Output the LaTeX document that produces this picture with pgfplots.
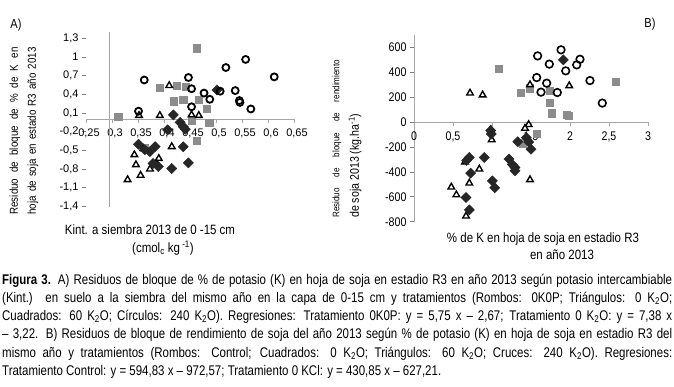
\documentclass[border=0pt]{standalone}
\usepackage{fontspec}
\setmainfont{Liberation Sans}
\newfontfamily\nfont{Liberation Sans}[FakeStretch=0.85]
\newfontfamily\cfont{Liberation Sans}[FakeStretch=0.82]
\usepackage{pgfplots}
\pgfplotsset{compat=1.18}
\definecolor{sqgray}{HTML}{8C8C8C}
\definecolor{axgray}{HTML}{A6A6A6}
\pgfplotsset{
 diam/.style={only marks, mark=square*, mark size=3.6pt, mark options={rotate=45, fill=black!85, draw=black!85}},
 sq/.style={only marks, mark=square*, mark size=3.6pt, mark options={fill=sqgray, draw=sqgray}},
 circ/.style={only marks, mark=o, mark size=3.5pt, mark options={draw=black, line width=1.8pt}},
 circB/.style={only marks, mark=o, mark size=3.8pt, mark options={draw=black, line width=1.6pt}},
 tri/.style={only marks, mark=triangle*, mark size=3.8pt, mark options={fill=white, draw=black, line width=1.4pt}},
}
\begin{document}
\begin{tikzpicture}[x=1pt,y=1pt]
\useasboundingbox (0pt,0pt) rectangle (674pt,386pt);

% ---------------- Chart A ----------------
\begin{axis}[
  at={(86pt,179.5pt)}, anchor=south west, scale only axis,
  width=208pt, height=174.5pt,
  xmin=0.25, xmax=0.65, ymin=-1.4, ymax=1.4,
  axis x line=middle, axis y line=left,
  axis line style={-, draw=axgray, line width=0.9pt},
  y axis line style={draw=none},
  hide obscured x ticks=false, hide obscured y ticks=false,
  xtick={0.25,0.3,0.35,0.4,0.45,0.5,0.55,0.6,0.65},
  xticklabels={{0,25},{0,3},{0,35},{0,4},{0,45},{0,5},{0,55},{0,6},{0,65}},
  ytick={-1.4,-1.1,-0.8,-0.5,-0.2,0.1,0.4,0.7,1,1.3},
  yticklabels={{-1,4},{-1,1},{-0,8},{-0,5},{-0,2},{0,1},{0,4},{0,7},{1},{1,3}},
  tick align=outside, major tick length=4pt,
  xtick style={draw=axgray, line width=0.6pt},
  ytick style={draw=gray, line width=0.8pt},
  xticklabel style={font=\fontsize{11}{12}\selectfont, yshift=-2pt, xshift=3pt},
  yticklabel style={font=\fontsize{11}{12}\selectfont},
  clip=false,
]
\addplot[axgray, line width=0.9pt] coordinates {(0.295,-1.4) (0.295,1.4)};
% 60 K2O (squares)
\addplot[sq] coordinates {(0.463,1.14) (0.392,0.51) (0.424,0.54) (0.418,0.29) (0.437,0.32) (0.442,0.52) (0.467,0.32) (0.482,0.165) (0.487,-0.055) (0.453,-0.02) (0.463,-0.35) (0.312,0.04) (0.362,-0.46)};
% 0 K2O (triangles)
\addplot[tri] coordinates {(0.410,0.54) (0.392,0.06) (0.352,0.06) (0.453,0.07) (0.467,0.06) (0.415,-0.44) (0.390,-0.63) (0.343,-0.57) (0.346,-0.73) (0.355,-0.90) (0.330,-0.97) (0.373,-0.80) (0.386,-0.72) (0.360,-0.47)};
% 0K0P (diamonds)
\addplot[diam] coordinates {(0.418,0.07) (0.431,-0.05) (0.437,-0.12) (0.441,-0.16) (0.407,-0.17) (0.351,-0.40) (0.363,-0.49) (0.373,-0.52) (0.383,-0.44) (0.437,-0.44) (0.379,-0.71) (0.389,-0.76) (0.415,-0.79) (0.447,-0.70) (0.502,0.47)};
% 240 K2O (circles)
\addplot[circ] coordinates {(0.362,0.63) (0.447,0.67) (0.453,0.49) (0.477,0.42) (0.488,0.32) (0.508,0.45) (0.519,0.83) (0.537,0.46) (0.546,0.27) (0.545,0.30) (0.557,0.96) (0.567,0.165) (0.612,0.68) (0.453,0.20) (0.351,0.13)};
\end{axis}

% ---------------- Chart B ----------------
\begin{axis}[
  at={(414pt,164.3pt)}, anchor=south west, scale only axis,
  width=234pt, height=186.7pt,
  xmin=0, xmax=3, ymin=-800, ymax=700,
  axis x line=middle, axis y line=left,
  axis line style={-, draw=axgray, line width=0.9pt},
  hide obscured x ticks=false, hide obscured y ticks=false,
  xtick={0,0.5,1,1.5,2,2.5,3},
  xticklabels={0,{0,5},1,{1,5},2,{2,5},3},
  ytick={-800,-600,-400,-200,0,200,400,600},
  yticklabels={-800,-600,-400,-200,0,200,400,600},
  tick align=outside, major tick length=4pt,
  xtick style={draw=axgray, line width=0.6pt},
  ytick style={draw=gray, line width=0.8pt},
  xticklabel style={font=\nfont\fontsize{12.5}{14}\selectfont, yshift=-2pt},
  yticklabel style={font=\nfont\fontsize{12.5}{14}\selectfont},
  clip=false,
]
% squares
\addplot[sq] coordinates {(1.081,428) (1.368,238) (1.487,273) (1.744,254) (2.59,326) (1.735,153) (1.765,72) (1.957,59) (1.98,50) (1.39,-169) (1.573,-95)};
% triangles
\addplot[tri] coordinates {(0.718,233) (0.88,218) (1.487,300) (1.99,292) (0.987,-62) (0.996,-142) (1.47,-20) (1.423,-50) (0.654,-320) (0.837,-377) (0.709,-490) (0.478,-522) (0.543,-584) (0.667,-755) (1.487,-463)};
% diamonds
\addplot[diam] coordinates {(1.914,500) (0.983,-67) (0.99,-95) (1.33,-158) (1.44,-125) (1.47,-160) (1.50,-217) (0.709,-284) (0.675,-308) (0.90,-284) (1.218,-297) (1.26,-340) (1.295,-365) (1.295,-391) (0.727,-410) (1.004,-472) (1.035,-528) (0.667,-606) (0.709,-705)};
% circles
\addplot[circB] coordinates {(1.585,532) (1.885,581) (1.735,466) (1.945,412) (2.086,460) (2.128,505) (1.573,358) (1.701,313) (1.628,241) (1.837,238) (2.256,334) (2.414,153)};
\end{axis}

% ---------------- labels ----------------
\node[font=\nfont\fontsize{13}{15}\selectfont] at (16pt,361pt) {A)};
\node[font=\nfont\fontsize{13}{15}\selectfont] at (650pt,362pt) {B)};

\node[rotate=90, font=\nfont\fontsize{11.5}{18}\selectfont, align=center] at (24pt,255pt)
  {\makebox[167pt][s]{Residuo de bloque de \% de K en}\\\makebox[167pt][s]{hoja de soja en estado R3 año 2013}};
\node[font=\nfont\fontsize{13.5}{16}\selectfont] at (150pt,156pt) {Kint. a siembra 2013 de 0 -15 cm};
\node[font=\nfont\fontsize{13.5}{16}\selectfont] at (163pt,138pt) {(cmol\textsubscript{c} kg\textsuperscript{ -1})};

\node[rotate=90, anchor=west, inner sep=0pt, font=\nfont\fontsize{9.5}{11}\selectfont] at (337pt,168pt)
  {\makebox[158pt][s]{Residuo de bloque de rendimiento}};
\node[rotate=90, anchor=west, inner sep=0pt, font=\nfont\fontsize{12.5}{14}\selectfont] at (355pt,168pt)
  {de soja 2013 (kg.ha\textsuperscript{-1})};
\node[font=\nfont\fontsize{13.5}{16}\selectfont] at (543pt,147pt) {\% de K en hoja de soja en estadio R3};
\node[font=\nfont\fontsize{13.5}{16}\selectfont] at (562pt,131pt) {en año 2013};

% ---------------- caption ----------------
\begin{scope}[every node/.style={anchor=base west, inner sep=0pt, font=\cfont\fontsize{14}{18.3}\selectfont}]
\node at (2pt,102pt) {\makebox[670pt][s]{\textbf{Figura 3.} A) Residuos de bloque de \% de potasio (K) en hoja de soja en estadio R3 en año 2013 según potasio intercambiable}};
\node at (2pt,83.7pt) {\makebox[670pt][s]{(Kint.) en suelo a la siembra del mismo año en la capa de 0-15 cm y tratamientos (Rombos: 0K0P; Triángulos: 0 K\textsubscript{2}O;}};
\node at (2pt,65.4pt) {\makebox[670pt][s]{Cuadrados: 60 K\textsubscript{2}O; Círculos: 240 K\textsubscript{2}O). Regresiones: Tratamiento 0K0P: y = 5,75 x – 2,67; Tratamiento 0 K\textsubscript{2}O: y = 7,38 x}};
\node at (2pt,47.1pt) {\makebox[670pt][s]{– 3,22. B) Residuos de bloque de rendimiento de soja del año 2013 según \% de potasio (K) en hoja de soja en estadio R3 del}};
\node at (2pt,28.8pt) {\makebox[670pt][s]{mismo año y tratamientos (Rombos: Control; Cuadrados: 0 K\textsubscript{2}O; Triángulos: 60 K\textsubscript{2}O; Cruces: 240 K\textsubscript{2}O). Regresiones:}};
\node at (2pt,10.5pt) {Tratamiento Control: y = 594,83 x – 972,57; Tratamiento 0 KCl: y = 430,85 x – 627,21.};
\end{scope}
\end{tikzpicture}
\end{document}
